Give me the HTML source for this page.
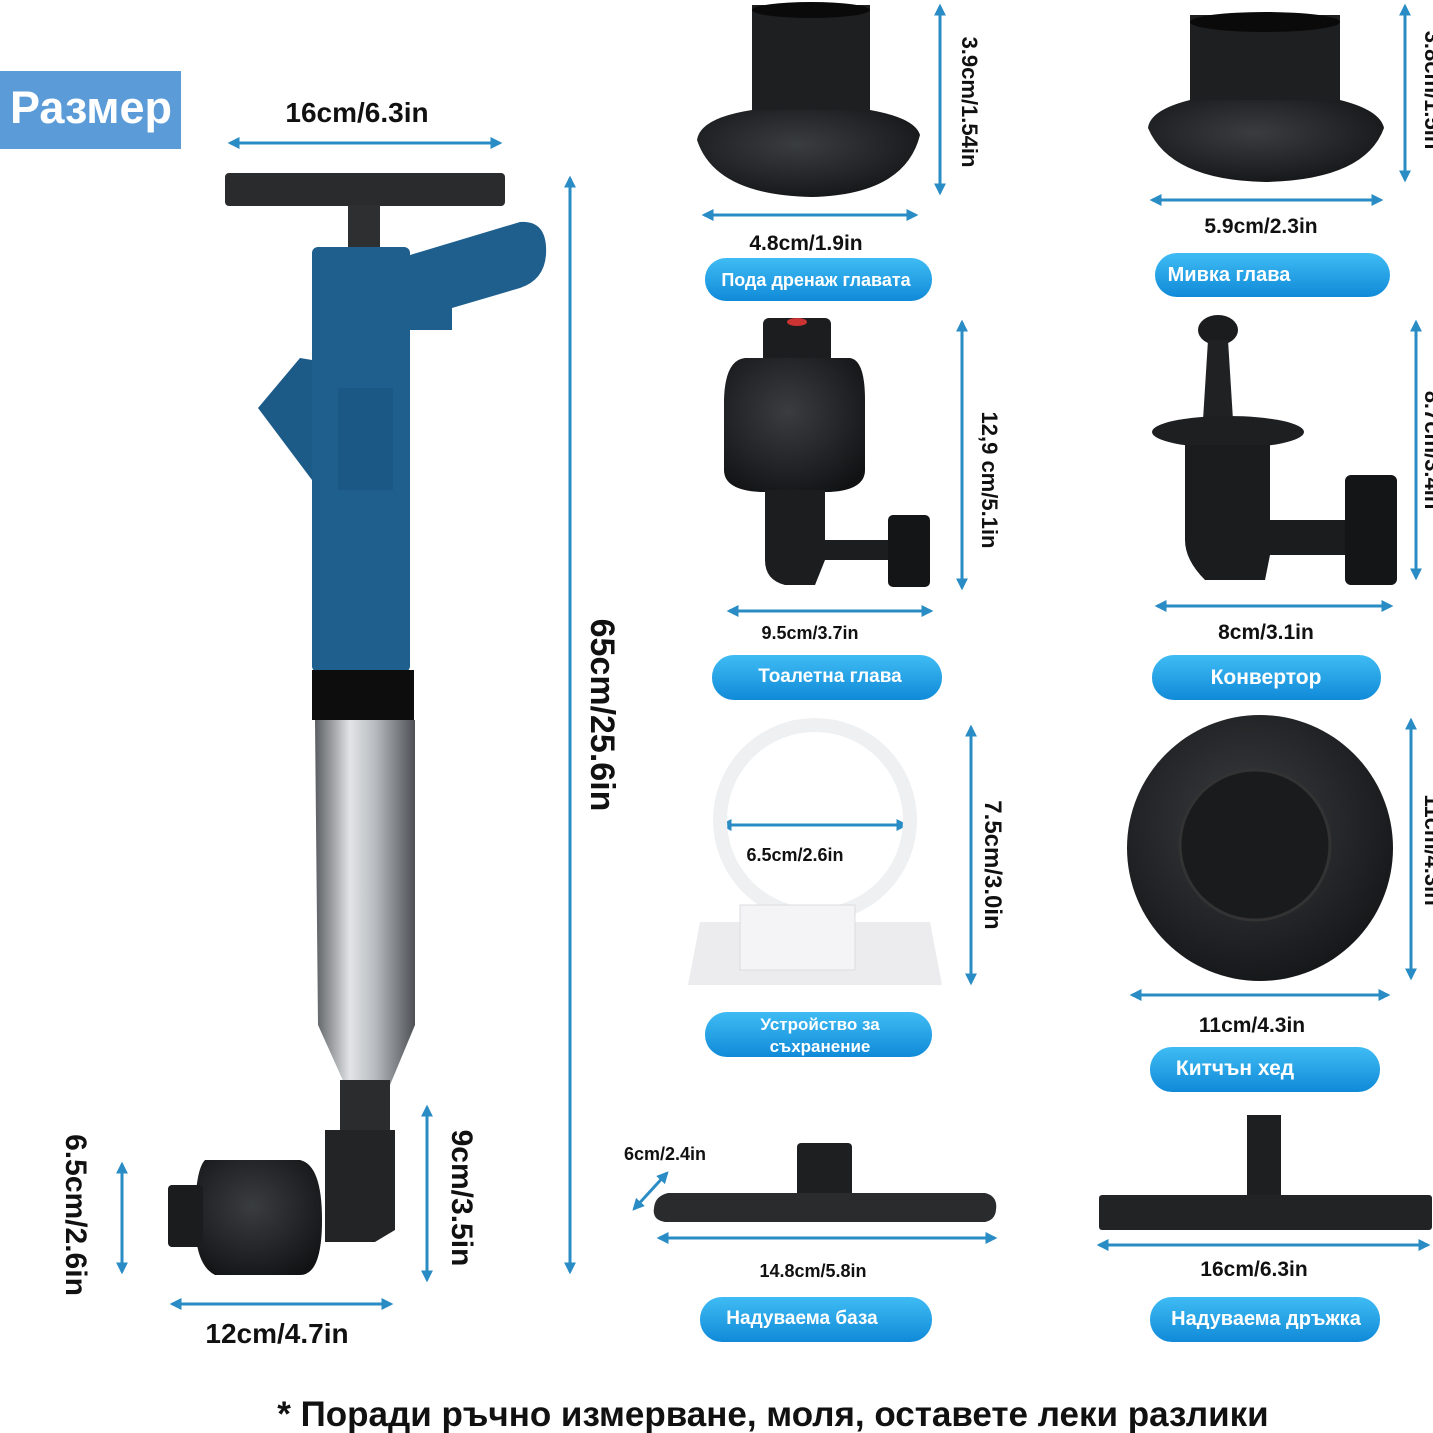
<!DOCTYPE html>
<html><head><meta charset="utf-8"><style>
html,body{margin:0;padding:0;background:#fff;}
svg{display:block;}
text{font-family:"Liberation Sans","DejaVu Sans",sans-serif;font-weight:bold;fill:#111;}
.pill text{fill:#fff;}
</style></head><body>
<svg width="1433" height="1433" viewBox="0 0 1433 1433" xmlns="http://www.w3.org/2000/svg">
<defs>
<marker id="a" viewBox="0 0 10 10" refX="8" refY="5" markerWidth="4" markerHeight="4" orient="auto-start-reverse"><path d="M0,0 L10,5 L0,10 z" fill="#2a8cc4"/></marker>
<linearGradient id="pg" x1="0" y1="0" x2="0" y2="1"><stop offset="0" stop-color="#3fbcf4"/><stop offset="1" stop-color="#108ad8"/></linearGradient>
<linearGradient id="sv" x1="0" y1="0" x2="1" y2="0"><stop offset="0" stop-color="#5a5e62"/><stop offset="0.35" stop-color="#e2e4e6"/><stop offset="0.6" stop-color="#b8bcc0"/><stop offset="1" stop-color="#4d5155"/></linearGradient>
<radialGradient id="dk" cx="0.45" cy="0.4" r="0.7"><stop offset="0" stop-color="#3a3d40"/><stop offset="1" stop-color="#111214"/></radialGradient>
</defs>
<g stroke="#2a8cc4" stroke-width="3" fill="none" marker-start="url(#a)" marker-end="url(#a)">
<line x1="230" y1="143" x2="500" y2="143"/>
<line x1="570" y1="178" x2="570" y2="1272"/>
<line x1="427" y1="1107" x2="427" y2="1280"/>
<line x1="122" y1="1164" x2="122" y2="1272"/>
<line x1="172" y1="1304" x2="391" y2="1304"/>
<line x1="704" y1="215" x2="916" y2="215"/>
<line x1="940" y1="6" x2="940" y2="193"/>
<line x1="1152" y1="200" x2="1381" y2="200"/>
<line x1="1405" y1="6" x2="1405" y2="180"/>
<line x1="729" y1="611" x2="931" y2="611"/>
<line x1="962" y1="322" x2="962" y2="588"/>
<line x1="1157" y1="606" x2="1391" y2="606"/>
<line x1="1416" y1="322" x2="1416" y2="578"/>
<line x1="722" y1="825" x2="906" y2="825"/>
<line x1="971" y1="727" x2="971" y2="983"/>
<line x1="1132" y1="995" x2="1388" y2="995"/>
<line x1="1411" y1="720" x2="1411" y2="978"/>
<line x1="634" y1="1209" x2="667" y2="1173"/>
<line x1="659" y1="1238" x2="995" y2="1238"/>
<line x1="1099" y1="1245" x2="1428" y2="1245"/>
</g>
<rect x="0" y="71" width="181" height="78" fill="#5b9bd8"/>
<text x="91" y="123" font-size="45" text-anchor="middle" style="fill:#fff">Размер</text>
<!-- pump -->
<rect x="225" y="173" width="280" height="33" rx="4" fill="#2a2b2d"/>
<rect x="348" y="205" width="32" height="45" fill="#2d2f31"/>
<path d="M410,255 L520,222 Q548,220 546,255 Q544,280 520,288 L452,308 L452,330 L410,330 Z" fill="#1f5f8e"/>
<path d="M312,360 L300,358 L258,408 L312,480 Z" fill="#1c5a88"/>
<rect x="312" y="247" width="98" height="425" rx="6" fill="#1f5f8e"/>
<rect x="338" y="388" width="55" height="102" fill="#1c5886"/>
<rect x="312" y="670" width="102" height="50" fill="#0d0d0e"/>
<path d="M315,720 L415,720 L415,1025 L390,1085 L345,1085 L318,1025 Z" fill="url(#sv)"/>
<rect x="340" y="1080" width="50" height="50" fill="#2a2c2e"/>
<path d="M325,1130 L395,1130 L395,1230 L375,1242 L325,1242 Z" fill="#222426"/>
<path d="M205,1160 L300,1160 Q322,1165 322,1220 Q322,1275 300,1275 L215,1275 Q195,1265 195,1220 Q195,1170 205,1160 Z" fill="url(#dk)"/>
<rect x="168" y="1185" width="35" height="62" rx="4" fill="#1b1c1e"/>
<!-- top middle cup -->
<rect x="752" y="5" width="118" height="112" fill="#1e1f21"/>
<ellipse cx="811" cy="10" rx="59" ry="8" fill="#0a0a0a"/>
<path d="M752,110 Q700,118 697,140 Q715,195 811,197 Q905,195 920,135 Q915,118 870,110 Z" fill="url(#dk)"/>
<!-- top right cup -->
<rect x="1190" y="15" width="150" height="95" fill="#1e1f21"/>
<ellipse cx="1265" cy="22" rx="75" ry="10" fill="#0a0a0a"/>
<path d="M1190,100 Q1150,110 1148,128 Q1170,180 1265,182 Q1365,180 1384,128 Q1380,110 1340,100 Z" fill="url(#dk)"/>
<!-- toilet head -->
<rect x="763" y="318" width="68" height="45" rx="6" fill="#1c1d1f"/>
<ellipse cx="797" cy="322" rx="10" ry="4" fill="#c33"/>
<path d="M745,358 L850,358 Q865,360 865,400 L865,470 Q865,490 830,492 L760,492 Q724,490 724,470 L724,400 Q725,360 745,358 Z" fill="url(#dk)"/>
<path d="M765,490 L825,490 L825,540 L890,540 L890,560 L825,560 L815,585 L785,585 Q765,580 765,560 Z" fill="#1c1d1f"/>
<rect x="888" y="515" width="42" height="72" rx="5" fill="#141516"/>
<!-- converter -->
<ellipse cx="1218" cy="330" rx="20" ry="15" fill="#1b1c1e"/>
<path d="M1208,340 L1228,340 L1233,420 L1203,420 Z" fill="#202123"/>
<ellipse cx="1228" cy="432" rx="76" ry="16" fill="#1e1f21"/>
<path d="M1185,445 L1270,445 L1270,520 L1345,520 L1345,555 L1270,555 L1265,580 L1205,580 Q1185,560 1185,540 Z" fill="#1b1c1e"/>
<rect x="1345" y="475" width="52" height="110" rx="6" fill="#141516"/>
<!-- holder -->
<circle cx="815" cy="820" r="95" fill="none" stroke="#eef0f2" stroke-width="14"/>
<path d="M700,922 L930,922 L942,985 L688,985 Z" fill="#ececee"/>
<rect x="740" y="905" width="115" height="65" fill="#f4f4f6" stroke="#ddd"/>
<!-- kitchen -->
<circle cx="1260" cy="848" r="133" fill="url(#dk)"/>
<circle cx="1255" cy="845" r="75" fill="#1a1b1d" stroke="#333" stroke-width="3"/>
<!-- inflatable base -->
<rect x="797" y="1143" width="55" height="70" rx="4" fill="#1e1f21"/>
<path d="M668,1193 L985,1193 Q998,1196 996,1210 Q995,1220 985,1222 L665,1222 Q652,1220 654,1208 Q655,1196 668,1193 Z" fill="#2a2b2d"/>
<!-- inflatable handle -->
<rect x="1247" y="1115" width="34" height="85" fill="#1e1f21"/>
<rect x="1099" y="1195" width="333" height="35" rx="3" fill="#222325"/>
<!-- texts -->
<text x="357" y="122" font-size="28" text-anchor="middle">16cm/6.3in</text>
<text x="277" y="1343" font-size="28" text-anchor="middle">12cm/4.7in</text>
<text font-size="34" text-anchor="middle" transform="translate(591,715) rotate(90)">65cm/25.6in</text>
<text font-size="30" text-anchor="middle" transform="translate(452,1198) rotate(90)">9cm/3.5in</text>
<text font-size="30" text-anchor="middle" transform="translate(66,1215) rotate(90)">6.5cm/2.6in</text>
<text font-size="22" text-anchor="middle" transform="translate(962,102) rotate(90)">3.9cm/1.54in</text>
<text font-size="22" text-anchor="middle" transform="translate(1425,90) rotate(90)">3.8cm/1.5in</text>
<text font-size="22" text-anchor="middle" transform="translate(982,480) rotate(90)">12,9 cm/5.1in</text>
<text font-size="22" text-anchor="middle" transform="translate(1425,450) rotate(90)">8.7cm/3.4in</text>
<text font-size="24" text-anchor="middle" transform="translate(985,865) rotate(90)">7.5cm/3.0in</text>
<text font-size="22" text-anchor="middle" transform="translate(1425,850) rotate(90)">11cm/4.3in</text>
<text x="806" y="250" font-size="21" text-anchor="middle">4.8cm/1.9in</text>
<text x="1261" y="233" font-size="21" text-anchor="middle">5.9cm/2.3in</text>
<text x="810" y="639" font-size="18" text-anchor="middle">9.5cm/3.7in</text>
<text x="1266" y="639" font-size="21" text-anchor="middle">8cm/3.1in</text>
<text x="795" y="861" font-size="18" text-anchor="middle">6.5cm/2.6in</text>
<text x="1252" y="1032" font-size="21" text-anchor="middle">11cm/4.3in</text>
<text x="665" y="1160" font-size="18" text-anchor="middle">6cm/2.4in</text>
<text x="813" y="1277" font-size="18" text-anchor="middle">14.8cm/5.8in</text>
<text x="1254" y="1276" font-size="21" text-anchor="middle">16cm/6.3in</text>
<g class="pill">
<rect x="705" y="258" width="227" height="43" rx="21" fill="url(#pg)"/><text x="816" y="286" font-size="18" text-anchor="middle">Пода дренаж главата</text>
<rect x="1155" y="253" width="235" height="44" rx="22" fill="url(#pg)"/><text x="1229" y="281" font-size="20" text-anchor="middle">Мивка глава</text>
<rect x="712" y="655" width="230" height="45" rx="22" fill="url(#pg)"/><text x="830" y="682" font-size="19" text-anchor="middle">Тоалетна глава</text>
<rect x="1152" y="655" width="229" height="45" rx="22" fill="url(#pg)"/><text x="1266" y="684" font-size="21" text-anchor="middle">Конвертор</text>
<rect x="705" y="1012" width="227" height="45" rx="22" fill="url(#pg)"/><text x="820" y="1030" font-size="17" text-anchor="middle">Устройство за</text><text x="820" y="1052" font-size="17" text-anchor="middle">съхранение</text>
<rect x="1150" y="1047" width="230" height="45" rx="22" fill="url(#pg)"/><text x="1235" y="1075" font-size="21" text-anchor="middle">Китчън хед</text>
<rect x="700" y="1297" width="232" height="45" rx="22" fill="url(#pg)"/><text x="802" y="1324" font-size="19" text-anchor="middle">Надуваема база</text>
<rect x="1150" y="1297" width="230" height="45" rx="22" fill="url(#pg)"/><text x="1266" y="1325" font-size="20" text-anchor="middle">Надуваема дръжка</text>
</g>
<text x="773" y="1426" font-size="35" text-anchor="middle">* Поради ръчно измерване, моля, оставете леки разлики</text>
</svg>
</body></html>
